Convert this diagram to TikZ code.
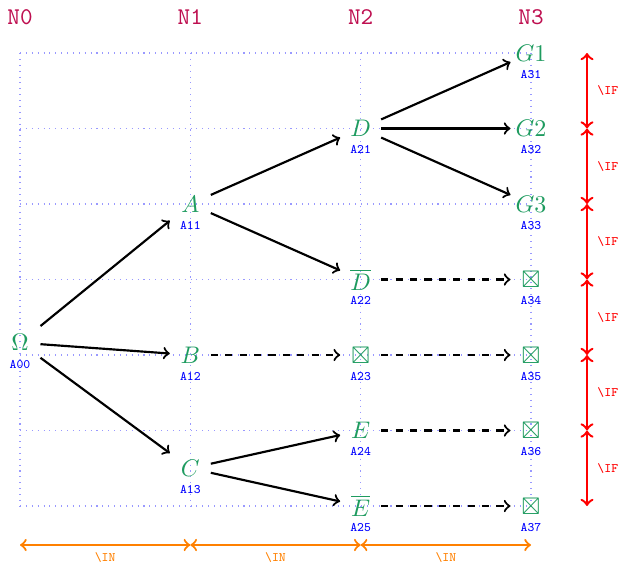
\documentclass[tikz,border=0pt]{standalone}
\usepackage{amssymb}
\usetikzlibrary{calc}
\definecolor{ngreen}{RGB}{30,155,95}
\definecolor{nhead}{RGB}{190,15,80}
\begin{document}
\begin{tikzpicture}[x=0.41667pt,y=-0.41667pt,
  st/.style={inner sep=0pt, minimum width=16.67pt, minimum height=16.67pt, text=ngreen},
  lab/.style={font=\fontsize{5.4}{6}\selectfont\ttfamily, text=blue, inner sep=0pt},
  ar/.style={->, line width=0.9pt, black},
  dar/.style={->, line width=0.9pt, black, dashed},
  hd/.style={font=\ttfamily, text=nhead, inner sep=0pt},
  ifar/.style={<->, red, line width=1pt},
  inar/.style={<->, orange, line width=0.9pt},
  iflab/.style={font=\fontsize{5.4}{6}\selectfont\ttfamily, text=red, anchor=west, inner sep=0pt},
  inlab/.style={font=\fontsize{5.4}{6}\selectfont\ttfamily, text=orange, inner sep=0pt},
  grd/.style={blue!40, dotted, line width=0.45pt}
]
\useasboundingbox (0,0) rectangle (618,565);
% grid
\foreach \x in {20,190.33,360.67,531} \draw[grd] (\x,53) -- (\x,506);
\foreach \y in {53,128.5,204,279.5,355,430.5,506} \draw[grd] (20,\y) -- (531,\y);
% headers
\node[hd] (h0) at (20,17) {N0};
\node[hd] (h1) at (190.33,17) {N1};
\node[hd] (h2) at (360.67,17) {N2};
\node[hd] (h3) at (531,17) {N3};
% nodes
\node[st] (a00) at (20,342.7) {$\Omega$};
\node[st] (a11) at (190.33,204) {$A$};
\node[st] (a12) at (190.33,355) {$B$};
\node[st] (a13) at (190.33,468.25) {$C$};
\node[st] (a21) at (360.67,128.5) {$D$};
\node[st] (a22) at (360.67,279.5) {$\overline{D}$};
\node[st] (a23) at (360.67,355) {$\boxtimes$};
\node[st] (a24) at (360.67,430.5) {$E$};
\node[st] (a25) at (360.67,506) {$\overline{E}$};
\node[st] (a31) at (531,53) {$G1$};
\node[st] (a32) at (531,128.5) {$G2$};
\node[st] (a33) at (531,204) {$G3$};
\node[st] (a34) at (531,279.5) {$\boxtimes$};
\node[st] (a35) at (531,355) {$\boxtimes$};
\node[st] (a36) at (531,430.5) {$\boxtimes$};
\node[st] (a37) at (531,506) {$\boxtimes$};
% labels
\foreach \n/\t in {a00/A00,a11/A11,a12/A12,a13/A13,a21/A21,a22/A22,a23/A23,a24/A24,a25/A25,a31/A31,a32/A32,a33/A33,a34/A34,a35/A35,a36/A36,a37/A37}
  \node[lab] (l\n) at ([yshift=-8.9pt]\n.center) {\t};
% arrows
\draw[ar] (a00) -- (a11);
\draw[ar] (a00) -- (a12);
\draw[ar] (a00) -- (a13);
\draw[ar] (a11) -- (a21);
\draw[ar] (a11) -- (a22);
\draw[dar] (a12) -- (a23);
\draw[ar] (a13) -- (a24);
\draw[ar] (a13) -- (a25);
\draw[ar] (a21) -- (a31);
\draw[ar] (a21) -- (a32);
\draw[ar] (a21) -- (a33);
\draw[dar] (a22) -- (a34);
\draw[dar] (a23) -- (a35);
\draw[dar] (a24) -- (a36);
\draw[dar] (a25) -- (a37);
% IF arrows
\foreach \y [count=\i from 0] in {53,128.5,204,279.5,355,430.5,506}
  \coordinate (r\i) at (587,\y);
\foreach \i [evaluate=\i as \j using int(\i+1)] in {0,...,5} {
  \draw[ifar] (r\i) -- (r\j);
  \node[iflab] (if\i) at ($(r\i)!0.5!(r\j)+(10,0)$) {\textbackslash IF};
}
% IN arrows
\foreach \x [count=\i from 0] in {20,190.33,360.67,531}
  \coordinate (b\i) at (\x,545);
\foreach \i [evaluate=\i as \j using int(\i+1)] in {0,1,2} {
  \draw[inar] (b\i) -- (b\j);
  \node[inlab] (in\i) at ($(b\i)!0.5!(b\j)+(0,13)$) {\textbackslash IN};
}
\end{tikzpicture}
\end{document}
